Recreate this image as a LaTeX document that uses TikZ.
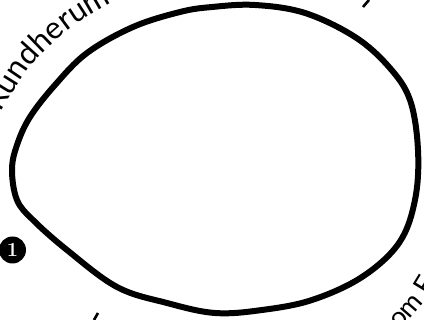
\documentclass[tikz,border=0pt]{standalone}
\usepackage{fontspec}
\newfontfamily\lato{Lato}
\usetikzlibrary{decorations.text}
\tikzset{
  egg/.style={draw=black, line width=6pt, line join=round},
  arctext/.style={decorate, decoration={text along path, text={#1}, text align=left}},
  frag/.style={draw=black, line width=2.6pt},
  badge/.style={circle, fill=black, minimum size=27pt, inner sep=0pt, text=white, font=\fontsize{20}{20}\selectfont\bfseries}
}
\begin{document}
\begin{tikzpicture}[x=1pt,y=1pt]
\useasboundingbox (0,0) rectangle (424,320);
\clip (0,0) rectangle (424,320);
\fill[white] (0,0) rectangle (424,320);
% egg
\path[egg] plot[smooth cycle, tension=0.6] coordinates {
 (255,315) (305,307) (355,283) (389,253) (410,220) (418,170) (415,120)
 (399,77) (362,43) (312,20) (262,10) (215,7) (167,17) (117,33) (67,70)
 (33,100) (17,120) (12,150) (17,175) (30,203) (55,235) (87,267) (133,293)
 (180,308) (212,313)};
% top text
\path[arctext={|\lato\fontsize{31}{31}\selectfont|Rundherum}]
  plot[smooth] coordinates {(1,207) (31,254) (70,291) (120,321) (173,338) (230,346) (290,350)};
% bottom text
\path[arctext={|\lato\fontsize{27}{27}\selectfont|om F}]
  plot[smooth] coordinates {(398,-9) (417,9) (432,30) (445,55) (455,80)};
% badge
\node[badge] (one) at (12.5,70) {1};
% letter fragments cut by the frame
\coordinate (ta) at (363,313); \coordinate (tb) at (369,320);
\coordinate (ba) at (94,0); \coordinate (bb) at (98,7);
\draw[frag] (ta) -- (tb);
\draw[frag] (ba) -- (bb);
\end{tikzpicture}
\end{document}
